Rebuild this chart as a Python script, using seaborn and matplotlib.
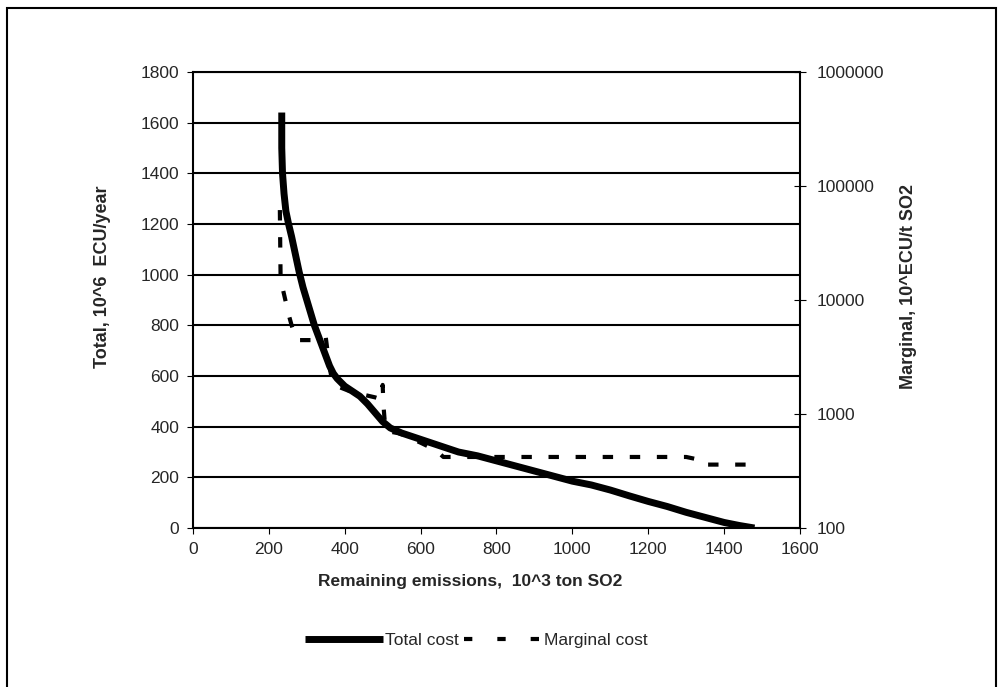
import seaborn as sns
import pandas as pd
import matplotlib.pyplot as plt
from matplotlib.lines import Line2D
from matplotlib.patches import Rectangle

# Values.
total_x = [234, 234, 236, 240, 245, 252, 260, 270, 280, 290, 300, 310, 320, 330, 340, 350,
           360, 370, 380, 390, 400, 420, 440, 460, 480, 500, 520, 550, 580, 600, 630, 660,
           700, 750, 800, 850, 900, 950, 1000, 1050, 1100, 1150, 1200, 1250, 1300, 1350,
           1400, 1440, 1480]
total_cost = [1640, 1500, 1400, 1320, 1250, 1200, 1150, 1080, 1010, 950, 900, 850, 800,
              760, 720, 680, 640, 610, 590, 575, 560, 540, 520, 490, 455, 420, 395, 375,
              360, 350, 335, 320, 300, 285, 265, 245, 225, 205, 185, 170, 150, 127, 105,
              85, 62, 42, 22, 10, 0]

marg_x = [229, 230, 231, 238, 245, 252, 260, 268, 274, 300, 320, 340, 345, 350, 355,
          360, 365, 370, 380, 400, 420, 440, 460, 480, 495, 500, 502, 505, 510, 520, 540,
          560, 580, 600, 620, 640, 650, 660, 700, 800, 900, 1000, 1100, 1200, 1300, 1330,
          1340, 1400, 1480]
marg_cost = [61500, 30000, 15000, 12000, 9500, 7500, 6000, 5000, 4450, 4450, 4450, 4450,
             4600, 4700, 3500, 2600, 2100, 1900, 1750, 1650, 1550, 1500, 1450, 1400,
             1350, 1800, 1200, 900, 720, 700, 680, 650, 600, 560, 520, 480, 450, 420, 420,
             420, 420, 420, 420, 420, 420, 400, 360, 360, 360]

df_total = pd.DataFrame({'emissions': total_x, 'cost': total_cost})
df_marg = pd.DataFrame({'emissions': marg_x, 'cost': marg_cost})

sns.set_style('white')
plt.rcParams['font.family'] = ['Liberation Sans', 'DejaVu Sans']

fig = plt.figure(figsize=(10.03, 6.87), dpi=100)
ax = fig.add_axes([0.1924, 0.2314, 0.6052, 0.6638])
ax2 = ax.twinx()

sns.lineplot(data=df_total, x='emissions', y='cost', ax=ax, color='black',
             linewidth=5, sort=False, estimator=None, zorder=3)
sns.lineplot(data=df_marg, x='emissions', y='cost', ax=ax2, color='black',
             linewidth=3, sort=False, estimator=None)
ax.lines[0].set_solid_capstyle('butt')
ax2.lines[0].set_linestyle((0, (2.5, 4)))
ax2.lines[0].set_dash_capstyle('butt')

ax.set_xlim(0, 1600)
ax.set_ylim(0, 1800)
ax.set_xticks(range(0, 1601, 200))
ax.set_yticks(range(0, 1801, 200))
ax2.set_yscale('log')
ax2.set_ylim(100, 1000000)
ax2.set_yticks([100, 1000, 10000, 100000, 1000000])
ax2.set_yticklabels(['100', '1000', '10000', '100000', '1000000'])
ax2.minorticks_off()

ax.yaxis.grid(True, color='black', linewidth=1.5)
ax.set_axisbelow(True)
for sp in ax.spines.values():
    sp.set_color('black')
    sp.set_linewidth(1.5)
for sp in ax2.spines.values():
    sp.set_visible(False)

ax.tick_params(axis='both', direction='out', length=4, color='black', labelsize=12.5,
               left=True, bottom=True, pad=6)
ax2.tick_params(axis='y', direction='inout', length=8, color='black', labelsize=12.5, pad=8)

ax.set_xlabel('Remaining emissions,  10^3 ton SO2', fontsize=12.5, fontweight='bold')
ax.xaxis.set_label_coords(0.456, -0.10)
ax.set_ylabel('Total, 10^6  ECU/year', fontsize=13, fontweight='bold')
ax.yaxis.set_label_coords(-0.135, 0.55)
ax2.set_ylabel('Marginal, 10^ECU/t SO2', fontsize=13, fontweight='bold')
ax2.yaxis.set_label_coords(1.165, 0.53)

handles = [Line2D([], [], color='black', linewidth=5, solid_capstyle='butt'),
           Line2D([], [], color='black', linewidth=3, linestyle=(0, (2, 6)),
                  dash_capstyle='butt')]
fig.legend(handles, ['Total cost', 'Marginal cost'], loc='center',
           bbox_to_anchor=(0.475, 0.068), ncol=2, frameon=False, fontsize=12.5,
           handlelength=4.5, columnspacing=0.3, handletextpad=0.1)

fig.patches.append(Rectangle((0.007, -0.01), 0.986, 0.998, transform=fig.transFigure,
                             fill=False, edgecolor='black', linewidth=1.5))

fig.savefig('out.png', dpi=100)
